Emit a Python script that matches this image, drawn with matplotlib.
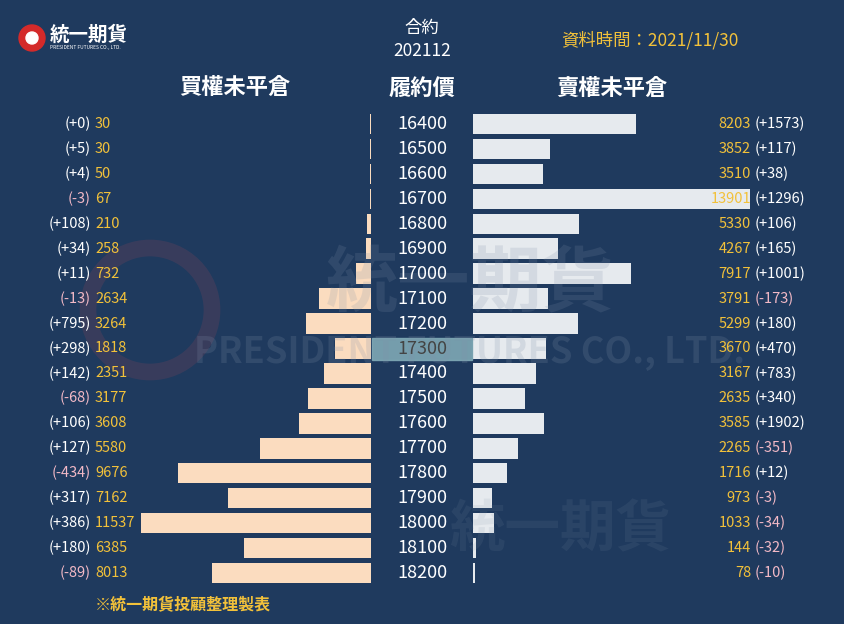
import numpy as np
import matplotlib.pyplot as plt
from matplotlib.patches import Rectangle, Circle

plt.rcParams['font.family'] = ['Noto Sans CJK JP']

strikes = [16400, 16500, 16600, 16700, 16800, 16900, 17000, 17100, 17200, 17300,
           17400, 17500, 17600, 17700, 17800, 17900, 18000, 18100, 18200]
call_oi = [30, 30, 50, 67, 210, 258, 732, 2634, 3264, 1818,
           2351, 3177, 3608, 5580, 9676, 7162, 11537, 6385, 8013]
call_chg = [0, 5, 4, -3, 108, 34, 11, -13, 795, 298,
            142, -68, 106, 127, -434, 317, 386, 180, -89]
put_oi = [8203, 3852, 3510, 13901, 5330, 4267, 7917, 3791, 5299, 3670,
          3167, 2635, 3585, 2265, 1716, 973, 1033, 144, 78]
put_chg = [1573, 117, 38, 1296, 106, 165, 1001, -173, 180, 470,
           783, 340, 1902, -351, 12, -3, -34, -32, -10]
atm = 17300

BG = '#1f3a5e'
PEACH = '#fbdcbf'
GREY = '#e6eaee'
YEL = '#f2c13a'
PINK = '#f2b9c6'
W, H = 844, 624
n = len(strikes)
rows = np.arange(n)

fig = plt.figure(figsize=(W / 100, H / 100), dpi=100, facecolor=BG)

def fax(x0, y0, x1, y1):
    return fig.add_axes([x0 / W, 1 - y1 / H, (x1 - x0) / W, (y1 - y0) / H])

y_top, step = 124, (573 - 124) / (n - 1)
scale = 0.0199  # px per contract
call_ax = fax(0, y_top - step / 2, 371, 573 + step / 2)
put_ax = fax(473, y_top - step / 2, W, 573 + step / 2)
for a in (call_ax, put_ax):
    a.set_ylim(n - 0.5, -0.5)
    a.axis('off')
call_ax.set_xlim(371 / scale, 0)
put_ax.set_xlim(0, (W - 473) / scale)
call_ax.barh(rows, call_oi, height=0.82, color=PEACH)
put_ax.barh(rows, put_oi, height=0.82, color=GREY)

# overlay in pixel coordinates for text and decoration
ov = fax(0, 0, W, H)
ov.set_xlim(0, W)
ov.set_ylim(H, 0)
ov.axis('off')

# faint watermark
ov.add_patch(Circle((150, 310), 62, fill=False, lw=12, ec='#a04858', alpha=0.2))
ov.text(470, 285, '統一期貨', fontsize=52, color='#8090a8', alpha=0.18,
        ha='center', va='center', fontweight='bold')
ov.text(470, 352, 'PRESIDENT FUTURES CO., LTD.', fontsize=26, color='#8090a8',
        alpha=0.2, ha='center', va='center', fontweight='bold')
ov.text(560, 530, '統一期貨', fontsize=40, color='#8090a8', alpha=0.12,
        ha='center', va='center', fontweight='bold')

# logo
ov.add_patch(Circle((32, 38), 13, color='#d42a2a'))
ov.add_patch(Circle((32, 38), 6, color='white'))
ov.text(50, 35, '統一期貨', fontsize=14, color='white', fontweight='bold', va='center')
ov.text(50, 47, 'PRESIDENT FUTURES CO., LTD.', fontsize=3.5, color='white', va='center')

ov.text(422, 28, '合約', fontsize=12.5, color='white', ha='center', va='center')
ov.text(422, 51, '202112', fontsize=12.5, color='white', ha='center', va='center')
ov.text(650, 40, '資料時間：2021/11/30', fontsize=12.5, color=YEL, ha='center', va='center')
ov.text(235, 88, '買權未平倉', fontsize=16, color='white', ha='center', va='center', fontweight='bold')
ov.text(422, 88, '履約價', fontsize=16, color='white', ha='center', va='center', fontweight='bold')
ov.text(612, 88, '賣權未平倉', fontsize=16, color='white', ha='center', va='center', fontweight='bold')
ov.text(95, 604, '※統一期貨投顧整理製表', fontsize=11.5, color=YEL, ha='left', va='center', fontweight='bold')

for i, s in enumerate(strikes):
    y = y_top + i * step
    hl = s == atm
    if hl:
        ov.add_patch(Rectangle((372, y - 11), 100, 22, color='#7fa9b5', alpha=0.9))
    ov.text(422, y, str(s), fontsize=13, color='#444444' if hl else 'white',
            ha='center', va='center')
    c = call_chg[i]
    ov.text(91, y, f'({c:+d})', fontsize=10.5, color=PINK if c < 0 else 'white',
            ha='right', va='center')
    ov.text(95, y, str(call_oi[i]), fontsize=10.5, color=YEL, ha='left', va='center')
    p = put_chg[i]
    ov.text(751, y, str(put_oi[i]), fontsize=10.5, color=YEL, ha='right', va='center')
    ov.text(755, y, f'({p:+d})', fontsize=10.5, color=PINK if p < 0 else 'white',
            ha='left', va='center')

fig.savefig('out.png', dpi=100, facecolor=BG)
